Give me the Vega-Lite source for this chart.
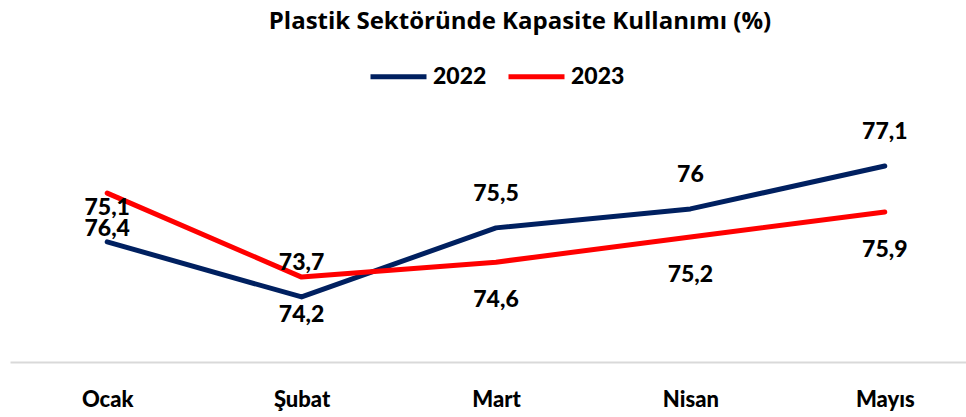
{
  "$schema": "https://vega.github.io/schema/vega-lite/v6.json",
  "width": 972,
  "height": 252,
  "autosize": {"type": "none"},
  "padding": {"left": 10, "top": 110, "right": 0, "bottom": 55},
  "background": "white",
  "config": {"view": {"stroke": null}, "font": "Lato"},
  "title": {
    "text": "Plastik Sektöründe Kapasite Kullanımı (%)",
    "font": "Open Sans",
    "fontSize": 24,
    "fontWeight": "bold",
    "color": "#000000",
    "anchor": "middle",
    "dx": 24,
    "offset": 12
  },
  "data": {
    "values": [
      {"month": "Ocak", "year": "2022", "level": 75.42, "label": "76,4"},
      {"month": "Şubat", "year": "2022", "level": 74.20, "label": "74,2"},
      {"month": "Mart", "year": "2022", "level": 75.73, "label": "75,5"},
      {"month": "Nisan", "year": "2022", "level": 76.15, "label": "76"},
      {"month": "Mayıs", "year": "2022", "level": 77.10, "label": "77,1"},
      {"month": "Ocak", "year": "2023", "level": 76.50, "label": "75,1"},
      {"month": "Şubat", "year": "2023", "level": 74.64, "label": "73,7"},
      {"month": "Mart", "year": "2023", "level": 74.97, "label": "74,6"},
      {"month": "Nisan", "year": "2023", "level": 75.53, "label": "75,2"},
      {"month": "Mayıs", "year": "2023", "level": 76.08, "label": "75,9"}
    ]
  },
  "encoding": {
    "x": {
      "field": "month",
      "type": "nominal",
      "sort": ["Ocak", "Şubat", "Mart", "Nisan", "Mayıs"],
      "scale": {"type": "point", "padding": 0.5},
      "axis": {
        "title": null,
        "labelAngle": 0,
        "ticks": false,
        "grid": false,
        "domainColor": "#d9d9d9",
        "domainWidth": 2,
        "labelFont": "Lato",
        "labelFontSize": 22,
        "labelFontWeight": 900,
        "labelColor": "#000000",
        "labelPadding": 27
      }
    },
    "y": {
      "field": "level",
      "type": "quantitative",
      "scale": {"domain": [72.76, 78.34], "nice": false, "zero": false},
      "axis": null
    }
  },
  "layer": [
    {
      "mark": {"type": "line", "strokeWidth": 5, "strokeCap": "round", "strokeJoin": "round"},
      "encoding": {
        "color": {
          "field": "year",
          "type": "nominal",
          "scale": {"domain": ["2022", "2023"], "range": ["#002060", "#ff0000"]},
          "legend": {
            "title": null,
            "orient": "none",
            "direction": "horizontal",
            "legendX": 358,
            "legendY": -64,
            "symbolType": "stroke",
            "symbolSize": 3136,
            "symbolStrokeWidth": 5,
            "labelFont": "Lato",
            "labelFontSize": 23,
            "labelFontWeight": 900,
            "labelColor": "#000000",
            "labelOffset": 4,
            "columnPadding": 11
          }
        }
      }
    },
    {
      "transform": [{"filter": "datum.year == '2022' && indexof(['Mart','Nisan','Mayıs'], datum.month) >= 0"}],
      "mark": {"type": "text", "font": "Lato", "fontSize": 23, "fontWeight": 900, "color": "#000000", "baseline": "middle", "dy": -34},
      "encoding": {"text": {"field": "label"}}
    },
    {
      "transform": [{"filter": "datum.year == '2023' && indexof(['Mart','Nisan','Mayıs'], datum.month) >= 0"}],
      "mark": {"type": "text", "font": "Lato", "fontSize": 23, "fontWeight": 900, "color": "#000000", "baseline": "middle", "dy": 38},
      "encoding": {"text": {"field": "label"}}
    },
    {
      "transform": [{"filter": "datum.year == '2022' && datum.month == 'Ocak'"}],
      "mark": {"type": "text", "font": "Lato", "fontSize": 23, "fontWeight": 900, "color": "#000000", "baseline": "middle", "dy": -13},
      "encoding": {"text": {"field": "label"}}
    },
    {
      "transform": [{"filter": "datum.year == '2022' && datum.month == 'Şubat'"}],
      "mark": {"type": "text", "font": "Lato", "fontSize": 23, "fontWeight": 900, "color": "#000000", "baseline": "middle", "dy": 18},
      "encoding": {"text": {"field": "label"}}
    },
    {
      "transform": [{"filter": "datum.year == '2023' && datum.month == 'Ocak'"}],
      "mark": {"type": "text", "font": "Lato", "fontSize": 23, "fontWeight": 900, "color": "#000000", "baseline": "middle", "dy": 15},
      "encoding": {"text": {"field": "label"}}
    },
    {
      "transform": [{"filter": "datum.year == '2023' && datum.month == 'Şubat'"}],
      "mark": {"type": "text", "font": "Lato", "fontSize": 23, "fontWeight": 900, "color": "#000000", "baseline": "middle", "dy": -14},
      "encoding": {"text": {"field": "label"}}
    }
  ]
}
